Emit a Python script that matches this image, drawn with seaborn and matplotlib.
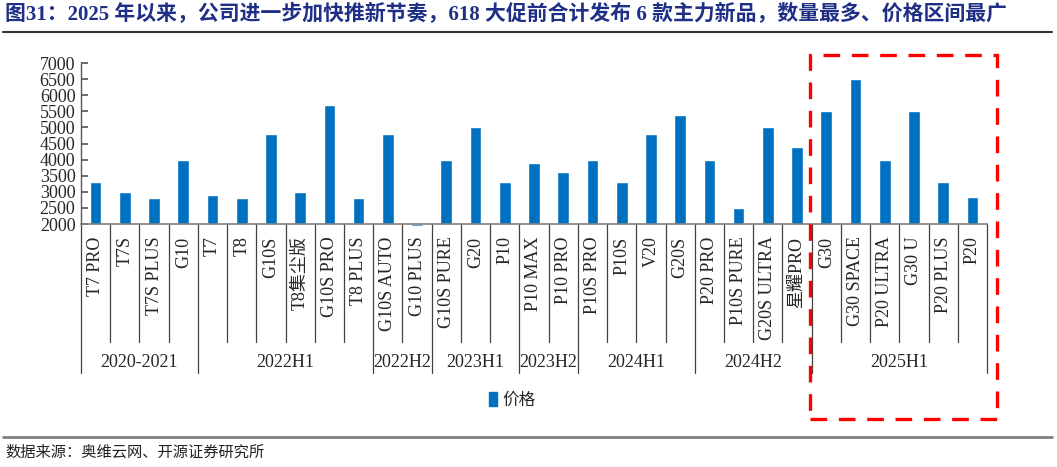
import numpy as np
import pandas as pd
import matplotlib
matplotlib.use('Agg')
import matplotlib.pyplot as plt
import matplotlib.patches as mpatches
import matplotlib.transforms as mtransforms
from matplotlib.lines import Line2D
import seaborn as sns

W, H = 1057, 467

# data
models = ['T7 PRO', 'T7S', 'T7S PLUS', 'G10',
          'T7', 'T8', 'G10S', 'T8集尘版', 'G10S PRO', 'T8 PLUS',
          'G10S AUTO', 'G10 PLUS',
          'G10S PURE', 'G20', 'P10',
          'P10 MAX', 'P10 PRO',
          'P10S PRO', 'P10S', 'V20', 'G20S',
          'P20 PRO', 'P10S PURE', 'G20S ULTRA', '星耀PRO',
          'G30', 'G30 SPACE', 'P20 ULTRA', 'G30 U', 'P20 PLUS', 'P20']
prices = [3300, 3000, 2800, 4000,
          2900, 2800, 4800, 3000, 5700, 2800,
          4800, 1950,
          4000, 5000, 3300,
          3900, 3600,
          4000, 3300, 4800, 5400,
          4000, 2500, 5000, 4400,
          5500, 6500, 4000, 5500, 3300, 2850]
groups = ['2020-2021', '2022H1', '2022H2', '2023H1', '2023H2',
          '2024H1', '2024H2', '2025H1']
group_sizes = [4, 6, 2, 3, 2, 4, 4, 6]

BASE = 2000
BLUE = '#0070C0'

sns.set_theme(style='white')
plt.rcParams['font.family'] = ['Liberation Serif', 'Noto Sans CJK SC']
plt.rcParams['axes.unicode_minus'] = False

df = pd.DataFrame({'model': models, 'price': prices})
df['height'] = df['price'] - BASE

fig = plt.figure(figsize=(W / 100, H / 100), dpi=100)
ax = fig.add_axes([81 / W, 1 - 224 / H, (987 - 81) / W, (224 - 63) / H])

sns.barplot(data=df, x='model', y='height', color=BLUE, width=0.4,
            saturation=1, bottom=BASE, ax=ax)
for p in ax.patches:
    p.set_clip_on(False)  # G10 PLUS sits just under the 2000 baseline

ax.set_xlim(-0.5, len(models) - 0.5)
ax.set_ylim(2000, 7000)
ax.set_yticks(np.arange(2000, 7001, 500))
ax.set_xlabel('')
ax.set_ylabel('')

for s in ['top', 'right']:
    ax.spines[s].set_visible(False)
ax.spines['left'].set_color('#595959')
ax.spines['bottom'].set_color('#7f7f7f')
ax.spines['left'].set_linewidth(1.0)
ax.spines['bottom'].set_linewidth(1.2)

ax.tick_params(axis='y', direction='in', length=5, color='#595959',
               labelsize=13, pad=4, left=True)
ax.tick_params(axis='x', length=0, labelsize=13, pad=9)
ax.set_xticks(range(len(models)))
ax.set_xticklabels(models, rotation=90, va='top', ha='center')

# category separators and group labels under the axis
trans = mtransforms.blended_transform_factory(ax.transData, ax.transAxes)
edges = np.cumsum([0] + group_sizes)
for b in range(len(models) + 1):
    y_end = -0.925 if b in edges else -0.733
    ax.plot([b - 0.5, b - 0.5], [0, y_end], transform=trans, clip_on=False,
            color='#404040', lw=0.9)
for g, a, e in zip(groups, edges[:-1], edges[1:]):
    ax.text((a + e) / 2 - 0.5, -0.862, g, transform=trans, ha='center',
            va='center', fontsize=13)

# title + rules
fig.text(5 / W, 1 - 15 / H,
         '图31：2025 年以来，公司进一步加快推新节奏，618 大促前合计发布 6 款主力新品，数量最多、价格区间最广',
         fontsize=15, fontweight='bold', color='#1F2F86', ha='left', va='center')
fig.add_artist(Line2D([3 / W, 1052 / W], [1 - 32 / H] * 2, color='#333333', lw=1.5))
fig.add_artist(Line2D([3 / W, 1052 / W], [1 - 437 / H] * 2, color='#808080', lw=2))
fig.text(5 / W, 1 - 452 / H, '数据来源：奥维云网、开源证券研究所',
         fontsize=11, color='#222222', ha='left', va='center')

# legend
handle = mpatches.Patch(color=BLUE)
fig.legend([handle], ['价格'], loc='center', bbox_to_anchor=(512 / W, 1 - 400 / H),
           frameon=False, fontsize=12, handlelength=0.5, handleheight=0.9,
           handletextpad=0.3)

# red dashed highlight box
box = mpatches.Rectangle((810 / W, 1 - 419 / H), (997 - 810) / W, (419 - 55) / H,
                         transform=fig.transFigure, fill=False, edgecolor='#FF0000',
                         lw=2.4, linestyle=(0, (5, 3.5)))
fig.add_artist(box)

fig.savefig('out.png', dpi=100)
